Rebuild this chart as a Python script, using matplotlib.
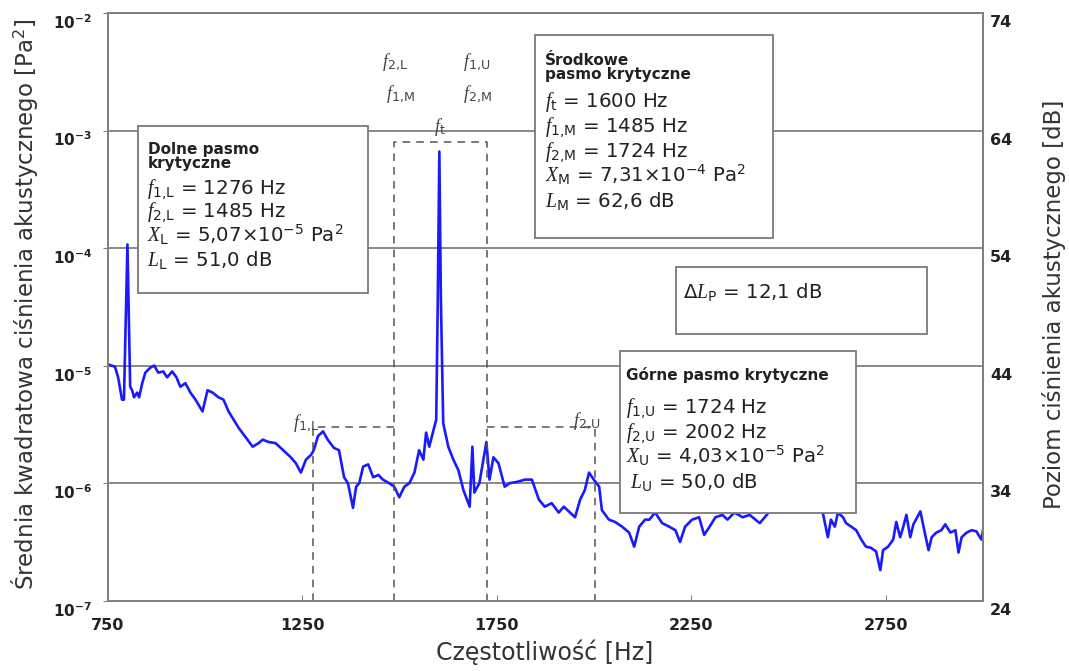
import matplotlib
matplotlib.use('Agg')
import matplotlib.pyplot as plt
import matplotlib.patches as patches
from matplotlib.transforms import ScaledTranslation
import numpy as np

# Sound pressure level spectrum [dB re 20 uPa]
freq_hz = [750, 768, 776, 786, 791, 800, 807, 812, 817, 825, 830, 838, 846, 858, 869, 879,
           892, 902, 915, 926, 936, 949, 962, 975, 993, 1006, 1019, 1034, 1047, 1060, 1073,
           1086, 1104, 1122, 1137, 1148, 1163, 1181, 1194, 1207, 1220, 1233, 1246, 1259,
           1272, 1279, 1290, 1303, 1315, 1331, 1344, 1357, 1367, 1380, 1388, 1396, 1406,
           1419, 1432, 1445, 1457, 1473, 1486, 1499, 1512, 1525, 1538, 1550, 1561, 1568,
           1576, 1587, 1594, 1598, 1602, 1606, 1612, 1625, 1638, 1651, 1664, 1680, 1687,
           1692, 1705, 1723, 1731, 1741, 1754, 1770, 1783, 1801, 1822, 1840, 1858, 1873,
           1891, 1909, 1922, 1938, 1951, 1964, 1976, 1987, 1999, 2013, 2020, 2038, 2054,
           2072, 2090, 2103, 2116, 2131, 2142, 2157, 2175, 2193, 2209, 2221, 2234, 2252,
           2270, 2283, 2297, 2312, 2330, 2343, 2361, 2382, 2400, 2426, 2459, 2498, 2537,
           2568, 2588, 2601, 2609, 2619, 2627, 2640, 2648, 2661, 2674, 2687, 2699, 2712,
           2725, 2736, 2743, 2756, 2769, 2777, 2787, 2795, 2803, 2813, 2821, 2839, 2847,
           2860, 2868, 2880, 2893, 2903, 2916, 2929, 2937, 2945, 2958, 2971, 2983, 2996, 3000]
level_db = [44.1, 43.9, 43.0, 41.1, 41.1, 54.3, 42.2, 41.9, 41.3, 41.7, 41.3, 42.5, 43.4, 43.8, 44.0, 43.4,
            43.5, 43.0, 43.5, 43.0, 42.2, 42.5, 41.7, 41.1, 40.1, 41.9, 41.7, 41.3, 41.1, 40.1, 39.4,
            38.7, 37.9, 37.1, 37.4, 37.7, 37.5, 37.4, 37.0, 36.6, 36.2, 35.7, 34.9, 36.0,
            36.4, 36.8, 38.0, 38.4, 37.7, 37.0, 36.8, 34.5, 34.0, 31.9, 33.7, 34.0, 35.4,
            35.6, 34.5, 34.7, 34.3, 34.0, 33.7, 32.8, 33.7, 34.0, 34.9, 36.8, 36.0, 38.3,
            37.1, 38.5, 39.4, 49.6, 62.2, 49.6, 39.1, 37.1, 36.0, 35.1, 33.4, 32.0, 37.1,
            33.2, 34.0, 37.5, 34.3, 36.2, 35.7, 33.7, 34.0, 34.1, 34.3, 34.3, 32.6, 32.0,
            32.3, 31.5, 32.0, 31.5, 31.1, 32.6, 33.4, 34.9, 34.3, 33.7, 31.7, 30.9, 30.7,
            30.3, 29.8, 28.6, 30.3, 30.9, 30.9, 31.5, 30.6, 30.3, 30.0, 29.0, 30.3, 30.9,
            31.1, 29.6, 30.3, 31.1, 31.3, 30.9, 31.5, 31.1, 31.3, 30.6, 31.9, 32.2, 31.7,
            32.1, 31.5, 29.4, 30.9, 30.3, 31.5, 31.1, 30.6, 30.3, 30.0, 29.2, 28.6, 28.5,
            28.2, 26.6, 28.3, 28.6, 29.2, 30.7, 29.4, 30.3, 31.3, 29.4, 30.5, 31.6, 30.3,
            28.3, 29.4, 29.8, 30.0, 30.5, 29.8, 30.0, 28.1, 29.4, 29.8, 30.0, 29.9, 29.2, 30.0]

# critical band edges [Hz] and tone frequency
f1_L, f2_L = 1276, 1485
f1_M, f2_M = 1485, 1724
f1_U, f2_U = 1724, 2002
f_tone = 1600
side_frame = 3e-6   # top of side band frames [Pa^2]
mid_frame = 8e-4    # top of middle band frame [Pa^2]

# band results
X_L, L_L = 5.07e-5, 51.0
X_M, L_M = 7.31e-4, 62.6
X_U, L_U = 4.03e-5, 50.0
dL_P = 12.1

x_ticks = [750, 1250, 1750, 2250, 2750]
y_ticks = [1e-7, 1e-6, 1e-5, 1e-4, 1e-3, 1e-2]
db_ticks = [24, 34, 44, 54, 64, 74]

plt.rcParams['font.family'] = ['DejaVu Sans']
plt.rcParams['mathtext.fontset'] = 'custom'
plt.rcParams['mathtext.it'] = 'Liberation Serif:italic'
plt.rcParams['mathtext.rm'] = 'DejaVu Sans'
plt.rcParams['mathtext.bf'] = 'DejaVu Sans:bold'

W, H = 1069, 671
fig = plt.figure(figsize=(W / 100, H / 100), dpi=100)
ax = fig.add_axes([108 / W, 70 / H, 875 / W, 588 / H])

# pixel position inside the axes -> axes fraction
def afr(px, py):
	return (px - 108) / 875, (601 - py) / 588

psd = 4e-10 * 10 ** (np.array(level_db) / 10)
ax.plot(freq_hz, psd, color='#1a1aff', lw=1.9, zorder=2)

ax.set_yscale('log')
ax.set_xlim(750, 3000)
ax.set_ylim(1e-7, 1e-2)
ax.set_xticks(x_ticks)
ax.set_xticklabels([str(t) for t in x_ticks], fontsize=11.5, fontweight='bold', color='#222222')
ax.set_yticks(y_ticks)
ax.set_yticklabels([r'$\mathbf{10^{%d}}$' % int(np.log10(t)) for t in y_ticks], fontsize=11, color='#222222')
ax.yaxis.set_minor_locator(matplotlib.ticker.NullLocator())
ax.tick_params(axis='x', direction='in', length=4, pad=12, color='#808080')
ax.tick_params(axis='y', direction='out', length=3.5, pad=8, color='#808080')
ax.grid(axis='y', which='major', color='#808080', lw=1.3)
for s in ax.spines.values():
	s.set_color('#808080')
	s.set_linewidth(1.4)

ax2 = ax.twinx()
ax2.set_ylim(24, 74)
ax2.set_yticks(db_ticks)
ax2.set_yticklabels([str(t) for t in db_ticks], fontsize=11.5, fontweight='bold', color='#222222')
ax2.tick_params(axis='y', length=0, pad=5)
for s in ax2.spines.values():
	s.set_color('#808080')
	s.set_linewidth(1.4)

shift = ScaledTranslation(0, -8 / 100, fig.dpi_scale_trans)
for lab in ax.get_yticklabels() + ax2.get_yticklabels():
	lab.set_transform(lab.get_transform() + shift)

# dashed frames of the critical bands
dash = dict(color='#555555', lw=1.1, ls=(0, (5, 4)), zorder=3)
ax.plot([f1_L, f1_L, f2_L], [1e-7, side_frame, side_frame], **dash)
ax.plot([f1_M, f1_M, f2_M, f2_M], [1e-7, mid_frame, mid_frame, 1e-7], **dash)
ax.plot([f1_U, f2_U, f2_U], [side_frame, side_frame, 1e-7], **dash)

lab_kw = dict(fontsize=13, color='#444444', ha='center', va='center', zorder=5)
ax.text(*afr(395, 62), r'$\mathit{f}_{\mathrm{2{,}L}}$', transform=ax.transAxes, **lab_kw)
ax.text(*afr(477, 62), r'$\mathit{f}_{\mathrm{1{,}U}}$', transform=ax.transAxes, **lab_kw)
ax.text(*afr(400, 94), r'$\mathit{f}_{\mathrm{1{,}M}}$', transform=ax.transAxes, **lab_kw)
ax.text(*afr(477, 94), r'$\mathit{f}_{\mathrm{2{,}M}}$', transform=ax.transAxes, **lab_kw)
ax.text(*afr(440, 127), r'$\mathit{f}_{\mathrm{t}}$', transform=ax.transAxes, **lab_kw)
ax.text(*afr(306, 423), r'$\mathit{f}_{\mathrm{1{,}L}}$', transform=ax.transAxes, **lab_kw)
ax.text(*afr(587, 421), r'$\mathit{f}_{\mathrm{2{,}U}}$', transform=ax.transAxes, **lab_kw)

def comma(v, fmt):
	return (fmt % v).replace('.', ',')

def sci(v):
	e = int(np.floor(np.log10(v)))
	return comma(v / 10 ** e, '%.2f') + r'$\times$10$^{\mathrm{%d}}$' % e

def box(x0, y0, x1, y1):
	a0 = afr(x0, y1)
	a1 = afr(x1, y0)
	ax.add_patch(patches.Rectangle(a0, a1[0] - a0[0], a1[1] - a0[1], transform=ax.transAxes,
		facecolor='white', edgecolor='#7a7a7a', lw=1.3, zorder=4))

# py is the baseline of the last heading line
def head(px, py, s):
	ax.text(*afr(px, py), s, transform=ax.transAxes, fontsize=11, fontweight='bold',
		color='#222222', va='baseline', linespacing=0.95, zorder=5)

def line(px, py, s):
	ax.text(*afr(px, py), s, transform=ax.transAxes, fontsize=14.2,
		color='#222222', va='baseline', zorder=5)

# lower critical band
box(138, 126, 368, 293)
head(148, 168, 'Dolne pasmo\nkrytyczne')
line(147, 194, r'$\mathit{f}_{\mathrm{1{,}L}}$ = %d Hz' % f1_L)
line(147, 217, r'$\mathit{f}_{\mathrm{2{,}L}}$ = %d Hz' % f2_L)
line(147, 242, r'$\mathit{X}_{\mathrm{L}}$ = ' + sci(X_L) + r' Pa$^{\mathrm{2}}$')
line(147, 266, r'$\mathit{L}_{\mathrm{L}}$ = ' + comma(L_L, '%.1f') + ' dB')

# middle critical band
box(535, 35, 773, 238)
head(545, 79, 'Środkowe\npasmo krytyczne')
line(545, 107, r'$\mathit{f}_{\mathrm{t}}$ = %d Hz' % f_tone)
line(545, 132, r'$\mathit{f}_{\mathrm{1{,}M}}$ = %d Hz' % f1_M)
line(545, 157, r'$\mathit{f}_{\mathrm{2{,}M}}$ = %d Hz' % f2_M)
line(545, 182, r'$\mathit{X}_{\mathrm{M}}$ = ' + sci(X_M) + r' Pa$^{\mathrm{2}}$')
line(545, 207, r'$\mathit{L}_{\mathrm{M}}$ = ' + comma(L_M, '%.1f') + ' dB')

# level difference
box(676, 267, 927, 334)
line(683, 298, r'$\Delta\mathit{L}_{\mathrm{P}}$ = ' + comma(dL_P, '%.1f') + ' dB')

# upper critical band
box(620, 351, 856, 513)
head(626, 380, 'Górne pasmo krytyczne')
line(626, 413, r'$\mathit{f}_{\mathrm{1{,}U}}$ = %d Hz' % f1_U)
line(626, 438, r'$\mathit{f}_{\mathrm{2{,}U}}$ = %d Hz' % f2_U)
line(626, 463, r'$\mathit{X}_{\mathrm{U}}$ = ' + sci(X_U) + r' Pa$^{\mathrm{2}}$')
line(630, 488, r'$\mathit{L}_{\mathrm{U}}$ = ' + comma(L_U, '%.1f') + ' dB')

fig.text(25 / W, 1 - 304 / H, 'Średnia kwadratowa ciśnienia akustycznego [Pa$^2$]',
	rotation=90, ha='center', va='center', fontsize=16.5, color='#333333')
fig.text(1054 / W, 1 - 304 / H, 'Poziom ciśnienia akustycznego [dB]',
	rotation=90, ha='center', va='center', fontsize=16.5, color='#333333')
fig.text(545 / W, 1 - 652 / H, 'Częstotliwość [Hz]', ha='center', va='center',
	fontsize=17, color='#333333')

fig.savefig('out.png', dpi=100)
